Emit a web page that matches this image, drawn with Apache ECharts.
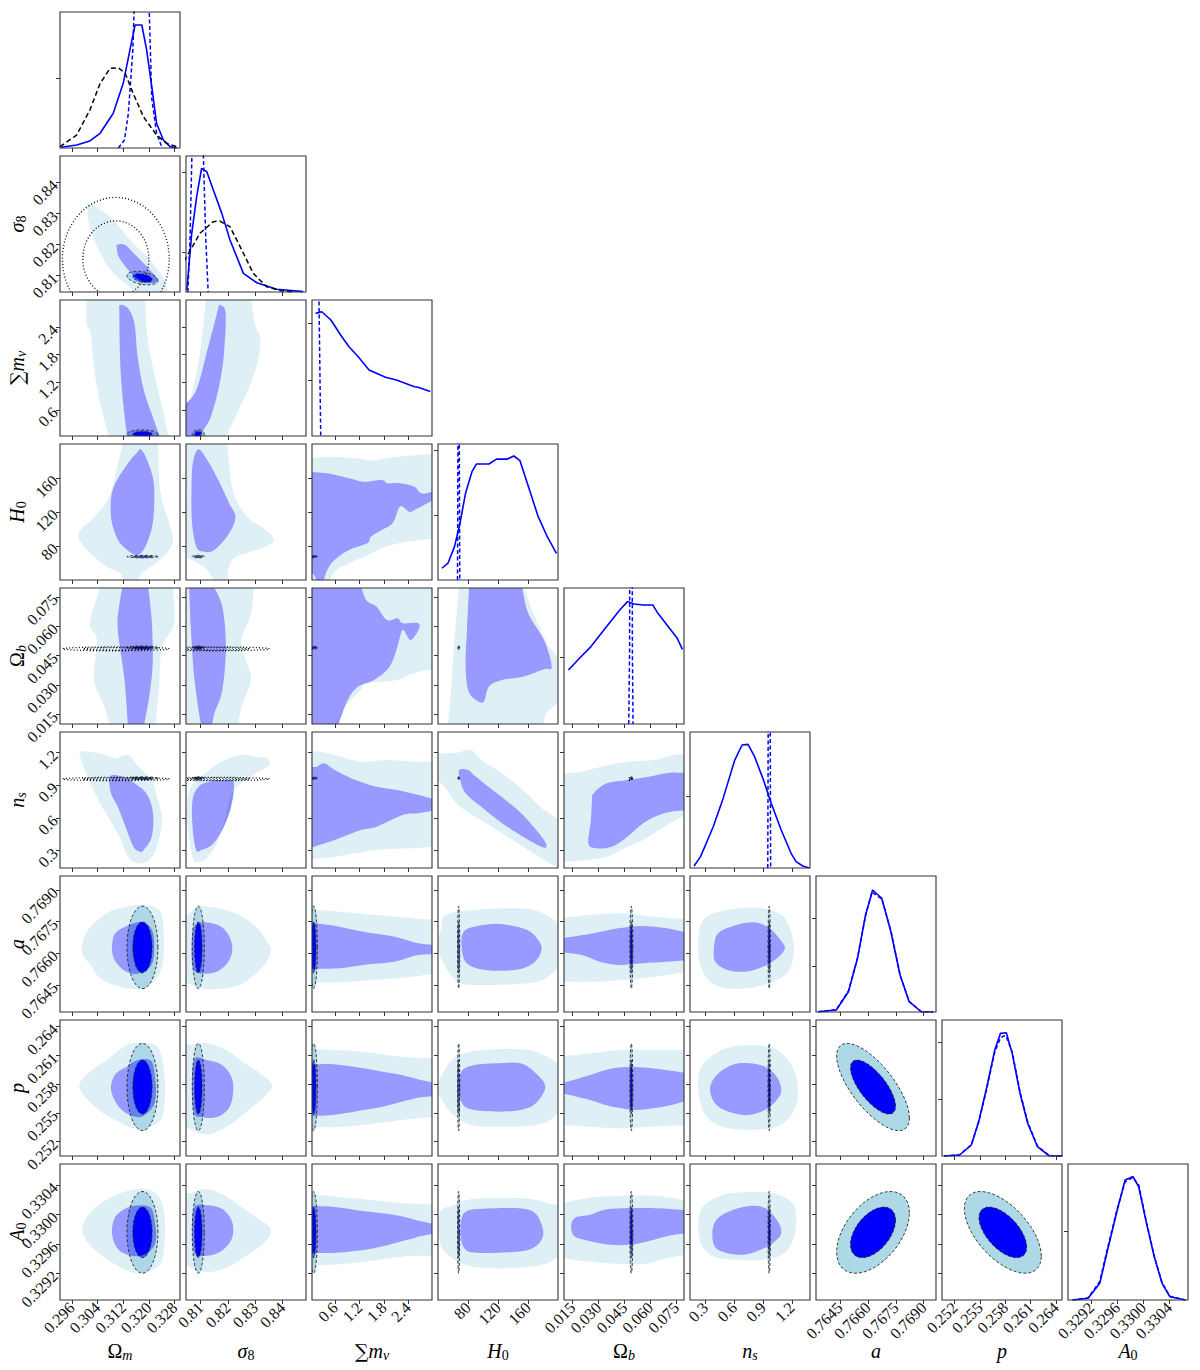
<!DOCTYPE html>
<html><head><meta charset="utf-8">
<script src="https://cdn.jsdelivr.net/npm/echarts@6/dist/echarts.min.js"></script>
<style>html,body{margin:0;padding:0;background:#fff}#c{width:1200px;height:1370px}</style>
</head><body><div id="c"></div>
<script>
// ---------------- axes ----------------
const paramKeys = ['Om','s8','mnu','H0','Ob','ns','a','p','A0'];
const axisTitles = ['{o|Ω}{si|m}','{i|σ}{sd|8}','{b|∑}{i|m}{si|ν}','{i|H}{sd|0}','{o|Ω}{si|b}','{i|n}{si|s}','{i|a}','{i|p}','{i|A}{sd|0}'];
const axisMin = [0.2923, 0.8047, 0.03, 40, 0.010, 0.14, 0.76322, 0.2505, 0.32884];
const axisMax = [0.3297, 0.8486, 2.99, 200, 0.0795, 1.39, 0.76966, 0.2647, 0.33069];
const tickVals = [
  [0.296,0.304,0.312,0.320,0.328],
  [0.81,0.82,0.83,0.84],
  [0.6,1.2,1.8,2.4],
  [80,120,160],
  [0.015,0.030,0.045,0.060,0.075],
  [0.3,0.6,0.9,1.2],
  [0.7645,0.7660,0.7675,0.7690],
  [0.252,0.255,0.258,0.261,0.264],
  [0.3292,0.3296,0.3300,0.3304]
];
const tickDecimals = [3,2,1,0,3,1,4,3,4];
const diagMax = 1.1;
const diagTicks = [[0.566],[0.324,0.97],[0.453,0.914],[0.52,1.05],[0.54],[0.577],[0.372,0.758],[0.455,0.92],[0.558]];

// ---------------- 1D marginals (relative density) ----------------
const oneD_Om_solid = [[0.2926,0.006],[0.2975,0.024],[0.3016,0.057],[0.3048,0.119],[0.3089,0.281],[0.3120,0.523],[0.3141,0.793],[0.3157,0.995],[0.3178,0.995],[0.3193,0.793],[0.3209,0.496],[0.3224,0.200],[0.3245,0.065],[0.3266,0.011],[0.3287,0.0]];
const oneD_Om_narrow = [[0.3105,0],[0.3124,0.065],[0.3136,0.28],[0.3150,0.79],[0.3154,1.12],[0.3165,2.0],[0.3180,2.4],[0.3196,2.0],[0.3201,1.12],[0.3209,0.4],[0.3224,0.12],[0.3240,0.01]];
const oneD_Om_black = [[0.2923,0.011],[0.2975,0.105],[0.3016,0.307],[0.3048,0.522],[0.3079,0.644],[0.3105,0.649],[0.3126,0.604],[0.3151,0.442],[0.3183,0.253],[0.3224,0.105],[0.3255,0.038],[0.3287,0.011]];
const oneD_s8_solid = [[0.8050,0.016],[0.8068,0.475],[0.8086,0.772],[0.8104,1.0],[0.8123,0.973],[0.8147,0.825],[0.8178,0.636],[0.8208,0.42],[0.8257,0.151],[0.8306,0.075],[0.8379,0.022],[0.8476,0.003]];
const oneD_s8_narrow = [[0.8054,0],[0.8062,0.45],[0.8069,1.15],[0.8080,2.5],[0.8090,3],[0.8101,2.5],[0.8110,1.15],[0.8119,0.45],[0.8128,0]];
const oneD_s8_black = [[0.8040,0.25],[0.8050,0.286],[0.8098,0.475],[0.8147,0.569],[0.8171,0.574],[0.8208,0.528],[0.8245,0.367],[0.8293,0.151],[0.8342,0.043],[0.8391,0.011],[0.8440,0.002]];
const oneD_mnu_solid = [[0.119,0.992],[0.272,1.005],[0.496,0.938],[0.765,0.803],[0.943,0.722],[1.17,0.641],[1.438,0.534],[1.843,0.475],[2.112,0.453],[2.558,0.399],[2.65,0.394],[2.946,0.359]];
const oneD_mnu_narrow = [[0.03,6],[0.12,6],[0.19,2.5],[0.20,1.15],[0.245,0]];
const oneD_H0_solid = [[45.1,0.095],[53.3,0.136],[62,0.27],[69.3,0.459],[76.7,0.701],[85.3,0.876],[91.2,0.938],[108,0.938],[117.9,0.978],[132.4,0.978],[141.1,1.003],[149.3,0.965],[159.1,0.782],[173.6,0.512],[185.7,0.35],[197.9,0.216]];
const oneD_H0_narrow = [[66.0,0],[66.8,1.5],[67.5,20],[68.2,1.5],[69.0,0]];
const oneD_Ob_solid = [[0.0126,0.437],[0.0180,0.518],[0.0256,0.626],[0.0347,0.788],[0.0423,0.922],[0.0468,0.99],[0.0505,0.971],[0.0559,0.963],[0.0614,0.963],[0.0644,0.895],[0.0711,0.774],[0.0756,0.693],[0.0786,0.604]];
const oneD_Ob_narrow = [[0.0475,0],[0.0480,0.6],[0.0484,5],[0.0492,5],[0.0496,0.6],[0.0500,0]];
const oneD_ns_solid = [[0.182,0.016],[0.25,0.092],[0.382,0.334],[0.485,0.563],[0.606,0.873],[0.682,0.995],[0.744,1.0],[0.813,0.9],[0.899,0.725],[0.986,0.523],[1.09,0.307],[1.193,0.119],[1.245,0.051],[1.314,0.016],[1.384,0.0]];
const oneD_ns_narrow = [[0.950,0],[0.958,2],[0.965,20],[0.972,2],[0.980,0]];
const oneD_a_solid = [[0.76334,0.002],[0.76431,0.016],[0.76496,0.164],[0.76545,0.435],[0.76588,0.785],[0.76626,0.987],[0.76675,0.92],[0.76724,0.649],[0.76773,0.299],[0.76822,0.083],[0.76887,0.002],[0.76951,0]];
const oneD_a_narrow = [[0.76334,0.002],[0.76431,0.02],[0.76496,0.17],[0.76545,0.44],[0.76588,0.78],[0.76622,0.97],[0.76675,0.915],[0.76724,0.655],[0.76773,0.30],[0.76822,0.085],[0.76887,0.003],[0.76951,0]];
const oneD_p_solid = [[0.25074,0],[0.25258,0.008],[0.25397,0.089],[0.25489,0.291],[0.25581,0.56],[0.25674,0.857],[0.25742,0.992],[0.25811,0.997],[0.25881,0.83],[0.25973,0.507],[0.26064,0.265],[0.26180,0.075],[0.26317,0.002],[0.26479,0]];
const oneD_p_narrow = [[0.25074,0],[0.25258,0.01],[0.25397,0.09],[0.25489,0.285],[0.25581,0.55],[0.25674,0.84],[0.25742,0.955],[0.25795,0.975],[0.25811,0.965],[0.25881,0.84],[0.25973,0.52],[0.26064,0.275],[0.26180,0.08],[0.26317,0.003],[0.26479,0]];
const oneD_A0_solid = [[0.32891,0],[0.32915,0.014],[0.32933,0.135],[0.32945,0.404],[0.32960,0.728],[0.32972,0.97],[0.32978,0.984],[0.32984,1.0],[0.32993,0.916],[0.33005,0.62],[0.33017,0.35],[0.33029,0.135],[0.33041,0.027],[0.33065,0]];
const oneD_A0_narrow = [[0.32891,0],[0.32915,0.018],[0.32933,0.15],[0.32945,0.42],[0.32960,0.74],[0.32972,0.955],[0.32978,0.975],[0.32984,0.99],[0.32993,0.93],[0.33005,0.63],[0.33017,0.355],[0.33029,0.14],[0.33041,0.03],[0.33065,0]];

// ---------------- 2D filled contours of the broad chain: [x, y] ----------------
const outer_s8_Om = [[0.3011,0.8334],[0.3079,0.8290],[0.3141,0.8215],[0.3193,0.8162],[0.3235,0.8108],[0.3256,0.8065],[0.3258,0.8040],[0.3167,0.8040],[0.3151,0.8054],[0.3089,0.8108],[0.3048,0.8173],[0.3016,0.8258],[0.3008,0.8323]];
const inner_s8_Om = [[0.3100,0.8199],[0.3126,0.8199],[0.3162,0.8162],[0.3198,0.8124],[0.3222,0.8097],[0.3225,0.8081],[0.3198,0.8076],[0.3162,0.8092],[0.3131,0.8124],[0.3105,0.8162],[0.3100,0.8189]];
const outer_mnu_Om = [[0.3006,3.1],[0.3189,3.1],[0.3193,2.337],[0.3206,1.756],[0.3226,1.103],[0.3246,0.524],[0.3261,0.0],[0.3076,0.0],[0.3059,0.45],[0.3040,1.03],[0.3025,1.756],[0.3019,2.265],[0.3006,2.483]];
const inner_mnu_Om = [[0.3110,2.881],[0.3135,2.809],[0.3155,2.483],[0.3165,1.756],[0.3184,1.031],[0.3212,0.45],[0.3235,0.0],[0.3133,0.0],[0.3127,0.306],[0.3116,1.031],[0.3110,1.756],[0.3108,2.70]];
const outer_mnu_s8 = [[0.8122,3.1],[0.8284,3.1],[0.8298,2.483],[0.8318,2.191],[0.8314,1.756],[0.8284,1.177],[0.8245,0.668],[0.8205,0.161],[0.8192,0.0],[0.804,0.0],[0.804,0.378],[0.8072,1.031],[0.8096,1.756],[0.8111,2.483]];
const inner_mnu_s8 = [[0.8171,2.881],[0.8192,2.70],[0.8185,1.756],[0.8165,1.031],[0.8138,0.45],[0.8111,0.161],[0.8091,0.0],[0.804,0.0],[0.804,0.70],[0.8085,1.031],[0.8125,1.90],[0.8151,2.483],[0.8165,2.809]];
const outer_H0_Om = [[0.3121,205],[0.3229,205],[0.3235,145.9],[0.3263,106.7],[0.3274,83.2],[0.3235,63.5],[0.3178,47.9],[0.3167,35],[0.3121,35],[0.3110,47.9],[0.3053,59.6],[0.2980,90.9],[0.3031,114.5],[0.3076,138],[0.3104,177.3]];
const inner_H0_Om = [[0.3178,192.9],[0.3206,169.4],[0.3217,145.9],[0.3212,106.7],[0.3189,79.2],[0.3161,69.4],[0.3121,79.2],[0.3099,90.9],[0.3082,114.5],[0.3087,145.9],[0.3127,173.3],[0.3161,189.1]];
const outer_H0_s8 = [[0.804,205],[0.8198,205],[0.8218,145.9],[0.8271,114.5],[0.8338,98.8],[0.8367,87.1],[0.8324,77.3],[0.8231,67.4],[0.8205,55.6],[0.8198,35],[0.8157,35],[0.8117,54.1],[0.804,67.4]];
const inner_H0_s8 = [[0.8092,193.8],[0.8125,181.2],[0.8165,157.6],[0.8205,130.2],[0.8228,114.5],[0.8205,94.9],[0.8151,75.3],[0.8111,73.3],[0.8085,79.2],[0.8069,106.7],[0.8067,145.9],[0.8072,177.3]];
const outer_H0_mnu = [[-0.05,183.2],[0.407,185.1],[1.125,183.2],[1.483,180.4],[1.843,183.2],[2.381,185.9],[3.1,188.2],[3.1,89.1],[2.381,85.1],[1.843,79.2],[1.303,67.4],[0.943,59.6],[0.585,49.8],[0.449,35],[-0.05,35]];
const inner_H0_mnu = [[-0.05,167.4],[0.407,165.5],[0.943,159.6],[1.303,155.6],[1.752,157.6],[1.887,153.8],[2.201,153.8],[2.558,149.8],[2.738,142],[3.1,145.1],[3.1,136.1],[2.558,122.4],[2.425,120.4],[2.201,126.2],[2.02,106.7],[1.752,98.8],[1.483,90.9],[1.394,83.2],[0.943,75.3],[0.585,63.5],[0.407,51.8],[0.289,35],[0.178,35],[0.079,45.9],[-0.05,51.8]];
const outer_Ob_Om = [[0.3046,0.081],[0.3274,0.081],[0.3279,0.0615],[0.3241,0.0495],[0.3233,0.0325],[0.3225,0.0172],[0.3220,0.0085],[0.3078,0.0085],[0.3062,0.0188],[0.3029,0.0325],[0.3038,0.0529],[0.3016,0.0615],[0.3046,0.0785]];
const inner_Ob_Om = [[0.3119,0.081],[0.3197,0.081],[0.3209,0.0631],[0.3212,0.0410],[0.3201,0.0240],[0.3184,0.0085],[0.3135,0.0085],[0.3124,0.0325],[0.3103,0.0580],[0.3107,0.0699]];
const outer_Ob_s8 = [[0.804,0.081],[0.8295,0.081],[0.8285,0.0666],[0.8250,0.0529],[0.8266,0.0427],[0.8285,0.0325],[0.8250,0.0188],[0.8237,0.0085],[0.804,0.0085]];
const inner_Ob_s8 = [[0.8059,0.081],[0.8145,0.081],[0.8180,0.0699],[0.8193,0.0495],[0.8180,0.0274],[0.8151,0.0155],[0.8141,0.0085],[0.8103,0.0085],[0.8078,0.0325],[0.8065,0.058],[0.8059,0.0785]];
const outer_Ob_mnu = [[-0.05,0.081],[3.1,0.081],[3.1,0.0385],[2.526,0.0359],[2.139,0.0325],[1.365,0.0308],[1.236,0.0274],[0.849,0.0188],[0.590,0.0085],[-0.05,0.0085]];
const inner_Ob_mnu = [[-0.05,0.081],[1.236,0.081],[1.365,0.0734],[1.624,0.0699],[1.880,0.0631],[2.139,0.0640],[2.267,0.0615],[2.654,0.0615],[2.654,0.058],[2.462,0.0529],[2.267,0.058],[2.139,0.0495],[1.944,0.0393],[1.559,0.0325],[1.172,0.0291],[0.913,0.0223],[0.654,0.0085],[-0.05,0.0085]];
const outer_Ob_H0 = [[68.3,0.081],[153.3,0.081],[167.3,0.0666],[188.3,0.0495],[205,0.0427],[205,0.0223],[184.7,0.0155],[181.3,0.0085],[52.3,0.0085],[55.7,0.0188],[61.3,0.0495]];
const inner_Ob_H0 = [[81.5,0.081],[152,0.081],[160.3,0.0666],[181.3,0.0529],[191.7,0.0393],[181.3,0.0380],[153.3,0.0342],[125.5,0.0325],[108,0.0291],[101.1,0.0214],[90.5,0.0223],[80.1,0.0274],[76.7,0.041],[78.7,0.058]];
const outer_ns_Om = [[0.2989,1.209],[0.3046,1.194],[0.3095,1.148],[0.3135,1.179],[0.3168,1.071],[0.3209,0.949],[0.3225,0.795],[0.3241,0.581],[0.3225,0.336],[0.3201,0.214],[0.3168,0.183],[0.3135,0.244],[0.3103,0.459],[0.3054,0.703],[0.3013,0.949],[0.2989,1.133]];
const inner_ns_Om = [[0.3078,0.979],[0.3111,0.986],[0.3140,0.949],[0.3192,0.827],[0.3213,0.643],[0.3209,0.428],[0.3184,0.305],[0.3173,0.29],[0.3152,0.336],[0.3127,0.52],[0.3103,0.703],[0.3082,0.827]];
const outer_ns_s8 = [[0.8074,0.214],[0.8059,0.397],[0.8050,0.643],[0.8065,0.887],[0.8132,1.041],[0.8189,1.133],[0.8247,1.179],[0.8304,1.163],[0.8342,1.148],[0.8352,1.087],[0.8304,1.01],[0.8247,0.918],[0.8208,0.795],[0.8189,0.581],[0.8160,0.367],[0.8122,0.229],[0.8093,0.198]];
const inner_ns_s8 = [[0.8084,0.305],[0.8071,0.52],[0.8071,0.765],[0.8093,0.887],[0.8132,0.933],[0.8199,0.949],[0.8222,0.918],[0.8212,0.703],[0.8180,0.489],[0.8141,0.351],[0.8103,0.305]];
const outer_ns_mnu = [[-0.05,1.209],[0.203,1.209],[0.590,1.179],[1.236,1.117],[1.880,1.133],[2.526,1.117],[3.1,1.117],[3.1,0.336],[2.526,0.321],[1.624,0.305],[0.849,0.259],[0.333,0.229],[-0.05,0.229]];
const inner_ns_mnu = [[-0.05,1.071],[0.139,1.071],[0.333,1.102],[0.590,1.041],[1.105,0.949],[1.624,0.887],[2.139,0.857],[2.655,0.811],[3.1,0.765],[3.1,0.673],[2.655,0.643],[2.267,0.627],[1.624,0.52],[1.236,0.489],[0.590,0.397],[0.074,0.336],[-0.05,0.336]];
const outer_ns_H0 = [[37,1.196],[62.7,1.196],[83.6,1.225],[97.6,1.133],[125.5,1.01],[153.3,0.857],[181.3,0.673],[205,0.581],[205,0.12],[174.3,0.244],[146.4,0.367],[111.5,0.52],[69.7,0.703],[48.8,0.887],[37,0.949]];
const inner_ns_H0 = [[68.3,1.041],[80.1,1.041],[90.5,0.979],[118.5,0.827],[146.4,0.673],[167.3,0.52],[181.3,0.397],[184.7,0.336],[177.7,0.336],[153.3,0.428],[125.5,0.551],[97.6,0.703],[76.7,0.827],[69.7,0.949]];
const outer_ns_Ob = [[0.0089,1.01],[0.0196,1.025],[0.0317,1.071],[0.0468,1.117],[0.0620,1.133],[0.0741,1.179],[0.0818,1.194],[0.0818,0.643],[0.0680,0.52],[0.0559,0.397],[0.0468,0.336],[0.0347,0.244],[0.0226,0.214],[0.0089,0.198]];
const inner_ns_Ob = [[0.0271,0.827],[0.0347,0.918],[0.0468,0.949],[0.0589,0.979],[0.0711,1.016],[0.0818,1.01],[0.0818,0.673],[0.0680,0.643],[0.0559,0.551],[0.0468,0.428],[0.0377,0.336],[0.0286,0.321],[0.0241,0.367],[0.0256,0.581],[0.0262,0.765]];
const outer_a_Om = [[0.2991,0.76631],[0.3010,0.76710],[0.3067,0.76789],[0.3133,0.76821],[0.3189,0.76829],[0.3236,0.76797],[0.3246,0.76702],[0.3246,0.76576],[0.3236,0.76513],[0.3217,0.76469],[0.3180,0.76434],[0.3133,0.76434],[0.3076,0.76458],[0.3038,0.76497],[0.3019,0.76545],[0.2997,0.76584]];
const inner_a_Om = [[0.3085,0.76631],[0.3095,0.76695],[0.3133,0.76731],[0.3180,0.76747],[0.3210,0.76710],[0.3217,0.76624],[0.3208,0.76545],[0.3170,0.76505],[0.3133,0.76510],[0.3104,0.76545],[0.3089,0.76584]];
const outer_a_s8 = [[0.8040,0.7677],[0.8054,0.76781],[0.8098,0.76821],[0.8165,0.76813],[0.8242,0.76781],[0.8309,0.76718],[0.8342,0.76655],[0.8358,0.76624],[0.8342,0.76560],[0.8298,0.76497],[0.8242,0.76450],[0.8165,0.76431],[0.8098,0.76434],[0.8054,0.76458],[0.8040,0.7647]];
const inner_a_s8 = [[0.8087,0.76739],[0.8121,0.76747],[0.8176,0.76726],[0.8209,0.76671],[0.8216,0.76608],[0.8198,0.76553],[0.8154,0.76510],[0.8098,0.76505],[0.8072,0.76529],[0.8067,0.76624],[0.8072,0.76710]];
const outer_a_mnu = [[-0.05,0.76805],[0.109,0.76805],[0.706,0.76797],[1.604,0.76781],[2.499,0.76766],[3.1,0.76758],[3.1,0.76505],[2.499,0.76489],[1.604,0.76474],[0.706,0.76463],[0.109,0.76463],[-0.05,0.76463]];
const inner_a_mnu = [[-0.05,0.76742],[0.109,0.76742],[0.706,0.76726],[1.303,0.76702],[2.050,0.76679],[2.650,0.76647],[3.1,0.76639],[3.1,0.76595],[2.650,0.76592],[2.050,0.76560],[1.303,0.76545],[0.706,0.76529],[0.109,0.76526],[-0.05,0.76526]];
const outer_a_H0 = [[50,0.76781],[86.3,0.76805],[142.9,0.76813],[175.2,0.76797],[205,0.76734],[205,0.76545],[183.3,0.76482],[159.1,0.76458],[102.4,0.76450],[70.1,0.76458],[54,0.76513],[44.3,0.76576],[38.7,0.76639],[44.3,0.76718]];
const inner_a_H0 = [[74.1,0.76702],[94.4,0.76731],[126.7,0.76737],[159.1,0.76710],[175.2,0.76655],[177.6,0.76608],[167.1,0.76553],[142.9,0.76521],[102.4,0.76521],[78.3,0.76553],[71.7,0.76624]];
const outer_a_Ob = [[0.0088,0.76766],[0.0238,0.76781],[0.0449,0.76789],[0.0624,0.76773],[0.0818,0.76762],[0.0818,0.76513],[0.0624,0.76489],[0.0449,0.76474],[0.0273,0.76465],[0.0088,0.76465]];
const inner_a_Ob = [[0.0088,0.76671],[0.0273,0.76695],[0.0414,0.76718],[0.0554,0.76729],[0.0695,0.76718],[0.0818,0.76695],[0.0818,0.76568],[0.0695,0.76560],[0.0554,0.76553],[0.0414,0.76545],[0.0308,0.76560],[0.0203,0.76592],[0.0088,0.76605]];
const outer_a_ns = [[0.275,0.76758],[0.529,0.76805],[0.844,0.76816],[1.096,0.76781],[1.191,0.76702],[1.222,0.76607],[1.160,0.76513],[0.970,0.76458],[0.655,0.76431],[0.403,0.76450],[0.275,0.76513],[0.225,0.76624]];
const inner_a_ns = [[0.434,0.76695],[0.623,0.76734],[0.812,0.76747],[0.970,0.76718],[1.096,0.76655],[1.128,0.76624],[1.065,0.76584],[0.907,0.76537],[0.718,0.76513],[0.529,0.76521],[0.403,0.76560],[0.389,0.76624]];
const outer_p_Om = [[0.2983,0.25791],[0.3022,0.25948],[0.3070,0.26052],[0.3130,0.26209],[0.3189,0.26227],[0.3231,0.26175],[0.3249,0.25878],[0.3249,0.25600],[0.3237,0.25426],[0.3201,0.25356],[0.3153,0.25339],[0.3106,0.25408],[0.3058,0.25496],[0.3010,0.25635]];
const inner_p_Om = [[0.3082,0.25739],[0.3094,0.25896],[0.3130,0.25982],[0.3165,0.26052],[0.3207,0.26045],[0.3219,0.25878],[0.3222,0.25705],[0.3213,0.25565],[0.3177,0.25460],[0.3141,0.25478],[0.3106,0.25565]];
const outer_p_s8 = [[0.804,0.26230],[0.8067,0.26209],[0.8123,0.26227],[0.8193,0.26157],[0.8262,0.26018],[0.8318,0.25914],[0.8361,0.25791],[0.8333,0.25669],[0.8262,0.25496],[0.8207,0.25374],[0.8137,0.25280],[0.8081,0.25304],[0.804,0.25374]];
const inner_p_s8 = [[0.8074,0.26035],[0.8123,0.26052],[0.8179,0.26000],[0.8213,0.25878],[0.8220,0.25739],[0.8207,0.25565],[0.8164,0.25460],[0.8108,0.25454],[0.8074,0.25530]];
const outer_p_mnu = [[-0.05,0.26164],[0.548,0.26157],[1.303,0.26139],[2.245,0.26087],[3.1,0.26070],[3.1,0.25460],[2.245,0.25426],[1.303,0.25374],[0.548,0.25350],[-0.05,0.25356]];
const inner_p_mnu = [[-0.05,0.26000],[0.548,0.26008],[1.303,0.25966],[1.774,0.25930],[2.245,0.25896],[2.719,0.25844],[3.1,0.25809],[3.1,0.25677],[2.719,0.25663],[2.245,0.25617],[1.774,0.25565],[1.303,0.25530],[0.548,0.25478],[-0.05,0.25468]];
const outer_p_H0 = [[37.3,0.25774],[58.1,0.26052],[83.6,0.26139],[119.3,0.26164],[160.1,0.26157],[185.7,0.26087],[205,0.25982],[205,0.25530],[185.7,0.25408],[160.1,0.25363],[119.3,0.25356],[83.6,0.25374],[58.1,0.25496],[42.8,0.25669]];
const inner_p_H0 = [[70.9,0.25930],[88.8,0.26000],[119.3,0.26018],[150,0.26018],[170.4,0.25914],[183.1,0.25774],[170.4,0.25600],[150,0.25530],[119.3,0.25513],[88.8,0.25530],[73.5,0.25583],[68.3,0.25739]];
const outer_p_Ob = [[0.0088,0.26087],[0.0251,0.26122],[0.0424,0.26157],[0.0598,0.26157],[0.0818,0.26157],[0.0818,0.25374],[0.0598,0.25356],[0.0424,0.25339],[0.0251,0.25356],[0.0088,0.25374]];
const inner_p_Ob = [[0.0088,0.25809],[0.0251,0.25896],[0.0341,0.25948],[0.0431,0.25976],[0.0544,0.25976],[0.0656,0.25955],[0.0818,0.25914],[0.0818,0.25635],[0.0724,0.25583],[0.0611,0.25548],[0.0521,0.25530],[0.0431,0.25548],[0.0341,0.25583],[0.0251,0.25635],[0.0088,0.25705]];
const outer_p_ns = [[0.234,0.25914],[0.314,0.26052],[0.517,0.26175],[0.800,0.26209],[1.044,0.26157],[1.206,0.25982],[1.267,0.25721],[1.206,0.25496],[1.044,0.25356],[0.760,0.25322],[0.476,0.25356],[0.314,0.25460],[0.234,0.25669]];
const inner_p_ns = [[0.355,0.25791],[0.436,0.25914],[0.598,0.26008],[0.760,0.26018],[0.922,0.25982],[1.044,0.25878],[1.092,0.25739],[1.044,0.25635],[0.922,0.25530],[0.760,0.25478],[0.598,0.25496],[0.436,0.25565],[0.363,0.25669]];
const outer_A0_Om = [[0.2992,0.32982],[0.3022,0.33005],[0.3070,0.33021],[0.3130,0.33032],[0.3189,0.33035],[0.3231,0.33025],[0.3249,0.32998],[0.3249,0.32962],[0.3237,0.32934],[0.3201,0.32923],[0.3153,0.32921],[0.3106,0.32930],[0.3058,0.32943],[0.3010,0.32962]];
const inner_A0_Om = [[0.3085,0.32975],[0.3094,0.32996],[0.3130,0.33009],[0.3171,0.33013],[0.3207,0.33009],[0.3219,0.32989],[0.3222,0.32966],[0.3207,0.32952],[0.3171,0.32944],[0.3130,0.32946],[0.3100,0.32955]];
const outer_A0_s8 = [[0.804,0.33030],[0.8067,0.33030],[0.8123,0.33035],[0.8193,0.33025],[0.8262,0.33007],[0.8318,0.32993],[0.8358,0.32980],[0.8333,0.32962],[0.8262,0.32943],[0.8207,0.32930],[0.8137,0.32922],[0.8081,0.32925],[0.804,0.32935]];
const inner_A0_s8 = [[0.8074,0.33007],[0.8123,0.33013],[0.8179,0.33008],[0.8213,0.32993],[0.8220,0.32977],[0.8207,0.32962],[0.8164,0.32948],[0.8108,0.32944],[0.8074,0.32952]];
const outer_A0_mnu = [[-0.05,0.33029],[0.548,0.33025],[1.303,0.33021],[2.245,0.33016],[3.1,0.33014],[3.1,0.32944],[2.245,0.32943],[1.303,0.32936],[0.548,0.32932],[-0.05,0.32931]];
const inner_A0_mnu = [[-0.05,0.33012],[0.548,0.33011],[1.303,0.33005],[1.774,0.33002],[2.245,0.32998],[2.719,0.32991],[3.1,0.32987],[3.1,0.32975],[2.719,0.32971],[2.534,0.32968],[2.245,0.32964],[1.774,0.32957],[1.303,0.32952],[0.548,0.32948],[-0.05,0.32949]];
const outer_A0_H0 = [[42.8,0.33003],[58.1,0.33012],[83.6,0.33021],[119.3,0.33023],[160.1,0.33022],[185.7,0.33016],[205,0.33012],[205,0.32946],[185.7,0.32934],[160.1,0.32929],[119.3,0.32927],[83.6,0.32930],[58.1,0.32941],[42.8,0.32962]];
const inner_A0_H0 = [[70.9,0.32993],[78.5,0.33005],[98.9,0.33008],[134.7,0.33009],[160.1,0.33007],[172.9,0.32998],[180.5,0.32977],[175.5,0.32962],[160.1,0.32952],[134.7,0.32949],[98.9,0.32948],[78.5,0.32951],[70.9,0.32966]];
const outer_A0_Ob = [[0.0088,0.33016],[0.0251,0.33023],[0.0363,0.33025],[0.0521,0.33026],[0.0656,0.33025],[0.0818,0.33019],[0.0818,0.32946],[0.0701,0.32941],[0.0589,0.32934],[0.0476,0.32933],[0.0363,0.32934],[0.0251,0.32936],[0.0088,0.32941]];
const inner_A0_Ob = [[0.0141,0.32983],[0.0164,0.32996],[0.0251,0.33000],[0.0341,0.33007],[0.0476,0.33009],[0.0611,0.33009],[0.0818,0.33006],[0.0818,0.32975],[0.0701,0.32971],[0.0589,0.32964],[0.0476,0.32959],[0.0363,0.32959],[0.0251,0.32964],[0.0164,0.32970]];
const outer_A0_ns = [[0.234,0.32998],[0.314,0.33016],[0.517,0.33028],[0.800,0.33031],[1.044,0.33028],[1.206,0.33016],[1.246,0.32998],[1.226,0.32971],[1.125,0.32948],[0.922,0.32939],[0.719,0.32938],[0.436,0.32941],[0.294,0.32952],[0.234,0.32971]];
const inner_A0_ns = [[0.375,0.32980],[0.436,0.32996],[0.598,0.33007],[0.760,0.33012],[0.922,0.33009],[1.044,0.32993],[1.092,0.32977],[1.044,0.32966],[0.922,0.32955],[0.719,0.32946],[0.517,0.32948],[0.395,0.32957]];

// ---------------- narrow chain (dashed ellipses): mean, 1-sigma, correlations ----------------
const narrowMean  = [0.3180, 0.8092, 0.07, 67.5, 0.049, 0.965, 0.76628, 0.2577, 0.32976];
const narrowSigma = [0.00197, 0.0009, 0.038, 0.6, 0.00035, 0.005, 0.000797, 0.00186, 0.000227];
const narrowCorr  = [[1,0,-0.35],[7,6,-0.71],[8,6,0.48],[8,7,-0.58]];
// ---------------- third chain (dotted contours): only Om, s8, Ob, ns ----------------
const dottedMean  = [0.3097, 0.8154, null, null, 0.0484, 0.958, null, null, null];
const dottedSigma = [0.0068, 0.0081, null, null, 0.0004, 0.006, null, null, null];

// ---------------- build ----------------
const K68 = 1.515, K95 = 2.448, NE = 90;
const fillTable = {};
const named = {outer_s8_Om,inner_s8_Om,outer_mnu_Om,inner_mnu_Om,outer_mnu_s8,inner_mnu_s8,outer_H0_Om,inner_H0_Om,outer_H0_s8,inner_H0_s8,outer_H0_mnu,inner_H0_mnu,
 outer_Ob_Om,inner_Ob_Om,outer_Ob_s8,inner_Ob_s8,outer_Ob_mnu,inner_Ob_mnu,outer_Ob_H0,inner_Ob_H0,
 outer_ns_Om,inner_ns_Om,outer_ns_s8,inner_ns_s8,outer_ns_mnu,inner_ns_mnu,outer_ns_H0,inner_ns_H0,outer_ns_Ob,inner_ns_Ob,
 outer_a_Om,inner_a_Om,outer_a_s8,inner_a_s8,outer_a_mnu,inner_a_mnu,outer_a_H0,inner_a_H0,outer_a_Ob,inner_a_Ob,outer_a_ns,inner_a_ns,
 outer_p_Om,inner_p_Om,outer_p_s8,inner_p_s8,outer_p_mnu,inner_p_mnu,outer_p_H0,inner_p_H0,outer_p_Ob,inner_p_Ob,outer_p_ns,inner_p_ns,
 outer_A0_Om,inner_A0_Om,outer_A0_s8,inner_A0_s8,outer_A0_mnu,inner_A0_mnu,outer_A0_H0,inner_A0_H0,outer_A0_Ob,inner_A0_Ob,outer_A0_ns,inner_A0_ns};
for (let i=1;i<9;i++) for (let j=0;j<i;j++) {
  const k = paramKeys[i]+'_'+paramKeys[j];
  if (named['outer_'+k]) fillTable[i+'_'+j] = [named['outer_'+k], named['inner_'+k]];
}
const diagLines = [
  [oneD_Om_solid, oneD_Om_narrow, oneD_Om_black],
  [oneD_s8_solid, oneD_s8_narrow, oneD_s8_black],
  [oneD_mnu_solid, oneD_mnu_narrow, null],
  [oneD_H0_solid, oneD_H0_narrow, null],
  [oneD_Ob_solid, oneD_Ob_narrow, null],
  [oneD_ns_solid, oneD_ns_narrow, null],
  [oneD_a_solid, oneD_a_narrow, null],
  [oneD_p_solid, oneD_p_narrow, null],
  [oneD_A0_solid, oneD_A0_narrow, null]
];

function corrOf(i,j){ for (const c of narrowCorr) if (c[0]===i && c[1]===j) return c[2]; return 0; }
function ellipse(mx,my,sx,sy,rho,k){
  const q = Math.sqrt(Math.max(0,1-rho*rho)), pts=[];
  for (let t=0;t<NE;t++){ const th=2*Math.PI*t/NE, c=Math.cos(th), s=Math.sin(th);
    pts.push([mx+k*sx*c, my+k*sy*(rho*c+q*s)]); }
  return pts;
}
function area(px){ let a=0; for(let k=0;k<px.length;k++){const p=px[k],q=px[(k+1)%px.length]; a+=p[0]*q[1]-q[0]*p[1];} return a; }
function ringPath(px, out){
  const n=px.length, s=1/6;
  let d='M'+px[0][0].toFixed(2)+' '+px[0][1].toFixed(2);
  for (let k=0;k<n;k++){
    const p0=px[(k-1+n)%n], p1=px[k], p2=px[(k+1)%n], p3=px[(k+2)%n];
    const f1=out[k]?0:s, f2=out[(k+1)%n]?0:s;
    const v=[p1[0]+(p2[0]-p0[0])*f1, p1[1]+(p2[1]-p0[1])*f1, p2[0]-(p3[0]-p1[0])*f2, p2[1]-(p3[1]-p1[1])*f2, p2[0], p2[1]];
    d+=' C'+v.map(x=>x.toFixed(2)).join(' ');
  }
  return d+' Z';
}
function polyPath(px){ return 'M'+px.map(p=>p[0].toFixed(2)+' '+p[1].toFixed(2)).join(' L')+' Z'; }

const FONT = 'Liberation Serif';
const richStyles = {
  o:{fontFamily:FONT,fontSize:20,lineHeight:22,color:'#000'},
  i:{fontFamily:FONT,fontSize:20,lineHeight:22,fontStyle:'italic',color:'#000'},
  b:{fontFamily:'DejaVu Serif',fontSize:19,lineHeight:22,color:'#000'},
  si:{fontFamily:FONT,fontSize:14,lineHeight:14,fontStyle:'italic',verticalAlign:'bottom',color:'#000'},
  sd:{fontFamily:FONT,fontSize:14,lineHeight:14,verticalAlign:'bottom',color:'#000'}
};

const grids=[], xAxes=[], yAxes=[], series=[];
let g=0;
for (let i=0;i<9;i++) for (let j=0;j<=i;j++) {
  grids.push({left:60+126*j, top:12+144*i, width:120, height:136, show:true, borderColor:'#333', borderWidth:1.1,
    backgroundColor:'rgba(0,0,0,0)', containLabel:false, outerBoundsMode:'none', z:6});
  const fmtX = v => Number(v).toFixed(tickDecimals[j]);
  const xa = {type:'value', gridIndex:g, min:axisMin[j], max:axisMax[j], scale:true,
    axisLine:{show:false}, splitLine:{show:false},
    axisTick:{show:true, inside:false, length:4, customValues:tickVals[j], lineStyle:{color:'#333',width:1}},
    axisLabel:{show:i===8, customValues:tickVals[j], formatter:fmtX, rotate:45, margin:5, fontFamily:FONT, fontSize:16, color:'#111', hideOverlap:false}};
  if (i===8) Object.assign(xa,{name:axisTitles[j], nameLocation:'middle', nameGap:40, nameMoveOverlap:false, nameTextStyle:{rich:richStyles}});
  xAxes.push(xa);
  if (i===j) {
    yAxes.push({type:'value', gridIndex:g, min:0, max:diagMax, axisLine:{show:false}, splitLine:{show:false},
      axisTick:{show:true, length:4, customValues:diagTicks[i], lineStyle:{color:'#333',width:1}}, axisLabel:{show:false, customValues:diagTicks[i]}});
    const L = diagLines[i];
    series.push({type:'line', xAxisIndex:g, yAxisIndex:g, data:L[0], showSymbol:false, clip:true, silent:true, z:3,
      lineStyle:{color:'#0000ff', width:1.6}});
    series.push({type:'line', xAxisIndex:g, yAxisIndex:g, data:L[1], showSymbol:false, clip:true, silent:true, z:3,
      lineStyle:{color:'#0000ff', width:1.5, type:[4,2.5]}});
    if (L[2]) series.push({type:'line', xAxisIndex:g, yAxisIndex:g, data:L[2], showSymbol:false, clip:true, silent:true, z:3,
      lineStyle:{color:'#000', width:1.5, type:[5,3]}});
  } else {
    const fmtY = v => Number(v).toFixed(tickDecimals[i]);
    const ya = {type:'value', gridIndex:g, min:axisMin[i], max:axisMax[i], scale:true, axisLine:{show:false}, splitLine:{show:false},
      axisTick:{show:true, length:4, customValues:tickVals[i], lineStyle:{color:'#333',width:1}},
      axisLabel:{show:j===0, customValues:tickVals[i], formatter:fmtY, rotate:45, margin:5, fontFamily:FONT, fontSize:16, color:'#111', hideOverlap:false}};
    if (j===0) Object.assign(ya,{name:axisTitles[i], nameLocation:'middle', nameGap:32, nameRotate:90, nameMoveOverlap:false, nameTextStyle:{rich:richStyles}});
    yAxes.push(ya);
    const ii=i, jj=j, fills=fillTable[i+'_'+j];
    const hasDotted = dottedMean[i]!=null && dottedMean[j]!=null;
    series.push({type:'custom', xAxisIndex:g, yAxisIndex:g, clip:true, silent:true, z:2,
      data:[[axisMin[j], axisMin[i]]],
      renderItem:(params, api) => {
        const toPx = p => api.coord(p);
        const ch = [];
        const rho = corrOf(ii,jj);
        const e95 = ellipse(narrowMean[jj],narrowMean[ii],narrowSigma[jj],narrowSigma[ii],rho,K95).map(toPx);
        const e68 = ellipse(narrowMean[jj],narrowMean[ii],narrowSigma[jj],narrowSigma[ii],rho,K68).map(toPx);
        ch.push({type:'path', shape:{pathData:polyPath(e95)}, style:{fill:'#add8e6', stroke:null}});
        ch.push({type:'path', shape:{pathData:polyPath(e68)}, style:{fill:'#0000ff', stroke:null}});
        if (fills) {
          const isOut = p => p[0]<axisMin[jj]||p[0]>axisMax[jj]||p[1]<axisMin[ii]||p[1]>axisMax[ii];
          let oPx = fills[0].map(toPx), oOut = fills[0].map(isOut);
          let iPx = fills[1].map(toPx), iOut = fills[1].map(isOut);
          let hPx = iPx.slice(), hOut = iOut.slice();
          if (Math.sign(area(oPx)) === Math.sign(area(hPx))) { hPx.reverse(); hOut.reverse(); }
          ch.push({type:'path', shape:{pathData:ringPath(oPx,oOut)+' '+ringPath(hPx,hOut)}, style:{fill:'rgba(173,216,230,0.4)', stroke:null}});
          ch.push({type:'path', shape:{pathData:ringPath(iPx,iOut)}, style:{fill:'rgba(0,0,255,0.4)', stroke:null}});
        }
        ch.push({type:'path', shape:{pathData:polyPath(e95)}, style:{fill:null, stroke:'#222', lineWidth:0.9, lineDash:[3,2]}});
        ch.push({type:'path', shape:{pathData:polyPath(e68)}, style:{fill:null, stroke:'#222', lineWidth:0.9, lineDash:[3,2]}});
        if (hasDotted) {
          for (const k of [K68,K95]) {
            const d = ellipse(dottedMean[jj],dottedMean[ii],dottedSigma[jj],dottedSigma[ii],0,k).map(toPx);
            ch.push({type:'path', shape:{pathData:polyPath(d)}, style:{fill:null, stroke:'#000', lineWidth:1.3, lineDash:[1,2.2]}});
          }
        }
        return {type:'group', children:ch};
      }});
  }
  g++;
}

const chart = echarts.init(document.getElementById('c'), null, {renderer:'svg', width:1200, height:1370});
chart.setOption({animation:false, backgroundColor:'#fff', grid:grids, xAxis:xAxes, yAxis:yAxes, series:series});
</script></body></html>
